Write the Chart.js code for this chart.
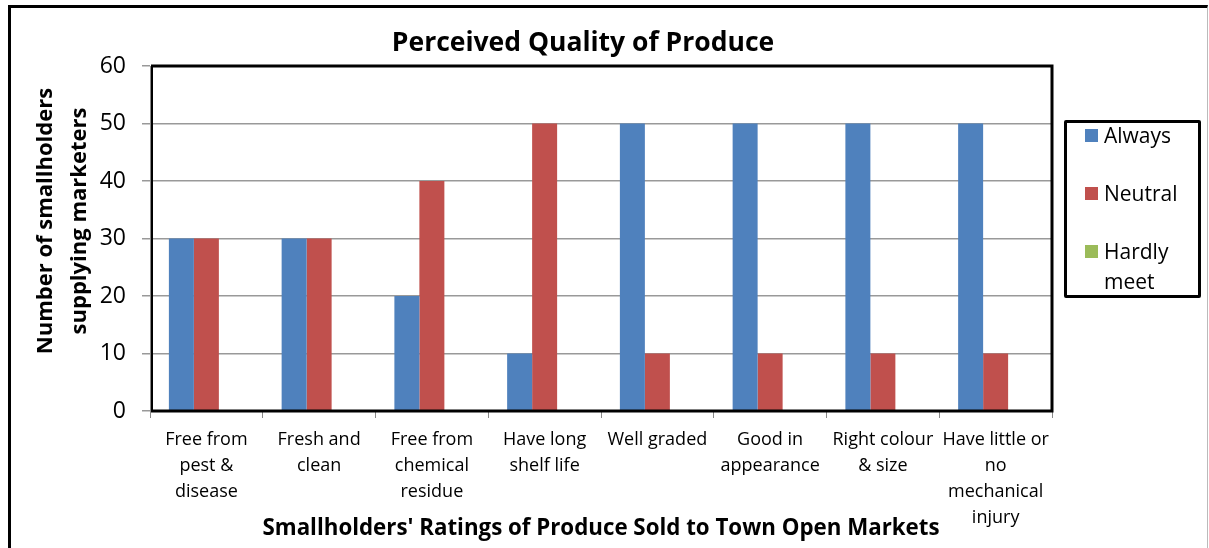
<!DOCTYPE html>
<html><head><meta charset="utf-8">
<script src="https://cdn.jsdelivr.net/npm/chart.js@4/dist/chart.umd.min.js"></script>
<style>
html,body{margin:0;padding:0;background:#fff;}
#wrap{position:relative;width:1209px;height:548px;overflow:hidden;}
#frame{position:absolute;left:8px;top:5px;width:1200px;height:600px;border-left:3px solid #000;border-top:3px solid #000;border-right:1px solid #bbb;box-sizing:border-box;pointer-events:none;}
#title{position:absolute;left:333px;width:500px;top:24px;text-align:center;font-family:'Open Sans',sans-serif;font-weight:bold;font-size:26.5px;line-height:34px;color:#000;}
#ytitle{position:absolute;left:-90px;top:187px;width:300px;height:68px;transform:rotate(-90deg);transform-origin:150px 34px;text-align:center;font-family:'Open Sans',sans-serif;font-weight:bold;font-size:22px;line-height:34px;color:#000;}
#legend{position:absolute;left:1064px;top:120px;width:137px;height:178px;border:3px solid #000;border-radius:2px;box-sizing:border-box;font-family:'Open Sans',sans-serif;font-size:21px;color:#000;}
.item{position:absolute;left:18px;display:flex;align-items:flex-start;line-height:30px;}
.sw{width:13px;height:13px;margin-right:6px;margin-top:9px;flex:none;}
canvas{position:absolute;left:0;top:0;}
</style></head>
<body><div id="wrap"><canvas id="c" width="1209" height="548"></canvas><div id="frame"></div><div id="title"></div><div id="ytitle"></div><div id="legend"></div></div>
<script>
const chartTitle = "Perceived Quality of Produce";
const yTitleLines = ["Number of smallholders","supplying marketers"];
const xTitle = "Smallholders' Ratings of Produce Sold to Town Open Markets";
const categories = [["Free from","pest &","disease"],["Fresh and","clean"],["Free from","chemical","residue"],["Have long","shelf life"],["Well graded"],["Good in","appearance"],["Right colour","& size"],["Have little or","no","mechanical","injury"]];
const seriesNames = ["Always","Neutral","Hardly meet"];
const always = [30,30,20,10,50,50,50,50];
const neutral = [30,30,40,50,10,10,10,10];
const hardlyMeet = [0,0,0,0,0,0,0,0];
const colors = ["#4f81bd","#c0504d","#9bbb59"];
const yTicks = [0,10,20,30,40,50,60];

const FONT = "'Open Sans', sans-serif";
const borderPlugin = {
  id:'plotBorder',
  afterDatasetsDraw(chart){
    const {ctx, chartArea:a} = chart;
    ctx.save();
    ctx.strokeStyle='#000';ctx.lineWidth=3;
    ctx.beginPath();
    ctx.moveTo(a.left+1,a.top);ctx.lineTo(a.right,a.top);ctx.lineTo(a.right,a.bottom);ctx.lineTo(a.left+1,a.bottom);
    ctx.stroke();
    ctx.lineWidth=2;
    ctx.beginPath();ctx.moveTo(a.left+2,a.top);ctx.lineTo(a.left+2,a.bottom);ctx.stroke();
    ctx.restore();
  }
};

document.getElementById('title').textContent = chartTitle;
document.getElementById('ytitle').innerHTML = yTitleLines.join('<br>');

new Chart(document.getElementById('c'),{
  type:'bar',
  data:{labels:categories,datasets:[
    {label:seriesNames[0],data:always,backgroundColor:colors[0]},
    {label:seriesNames[1],data:neutral,backgroundColor:colors[1]},
    {label:seriesNames[2],data:hardlyMeet,backgroundColor:colors[2]}
  ]},
  options:{
    responsive:false,animation:false,
    layout:{padding:{left:0,right:157,top:66,bottom:6}},
    datasets:{bar:{categoryPercentage:0.665,barPercentage:1.0,borderWidth:0}},
    plugins:{legend:{display:false},tooltip:{enabled:false},title:{display:false}},
    scales:{
      x:{
        grid:{display:true,drawOnChartArea:false,offset:true,tickLength:7,color:'#888'},
        border:{display:true,color:'#888',width:1},
        ticks:{color:'#000',font:{family:FONT,size:18,lineHeight:1.45},padding:9,maxRotation:0,autoSkip:false},
        title:{display:true,text:xTitle,color:'#000',font:{family:FONT,size:22.3,weight:'bold'},padding:{top:0,bottom:0}},
        afterFit(s){s.height=131;}
      },
      y:{
        min:0,max:60,
        afterBuildTicks(s){s.ticks=yTicks.map(v=>({value:v}));},
        grid:{color:'#999',lineWidth:1.5,tickLength:8},
        border:{display:true,color:'#888',width:1},
        ticks:{color:'#000',font:{family:FONT,size:23},padding:16},
        title:{display:false},
        afterFit(s){s.width=150;}
      }
    }
  },
  plugins:[borderPlugin]
});

const lg=document.getElementById('legend');
const tops=[-3,55,113];
seriesNames.forEach((n,i)=>{
  const d=document.createElement('div');d.className='item';d.style.top=tops[i]+'px';
  const sw=document.createElement('div');sw.className='sw';sw.style.background=colors[i];
  const t=document.createElement('div');t.style.width='80px';t.textContent=n;
  d.appendChild(sw);d.appendChild(t);lg.appendChild(d);
});
</script></body></html>
